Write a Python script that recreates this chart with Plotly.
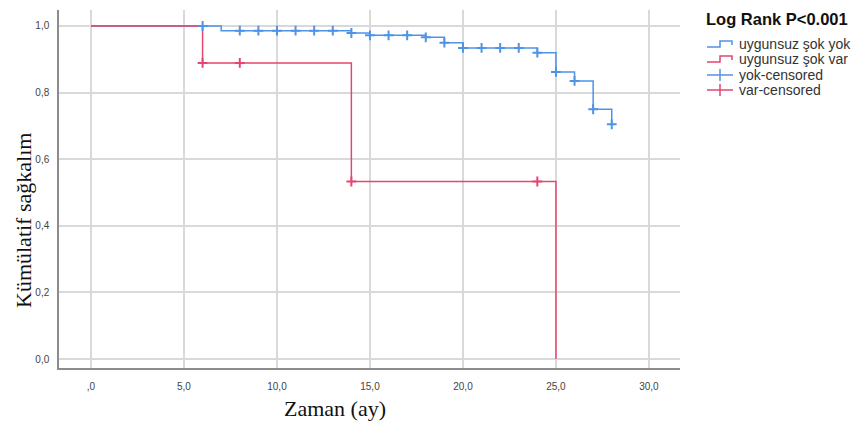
import plotly.graph_objects as go

# Kaplan-Meier step data
blue_t = [0, 7, 14, 15, 18, 19, 20, 24, 25, 26, 27, 28]
blue_s = [1.0, 0.986, 0.979, 0.972, 0.966, 0.950, 0.934, 0.920, 0.862, 0.835, 0.750, 0.705]
red_t = [0, 6, 14, 25]
red_s = [1.0, 0.889, 0.533, 0.0]

# censored observations
blue_cens_t = [6, 8, 9, 10, 11, 12, 13, 14, 15, 16, 17, 18, 19, 20, 21, 22, 23, 24, 25, 26, 27, 28]
blue_cens_s = [1.0, 0.986, 0.986, 0.986, 0.986, 0.986, 0.986, 0.979, 0.972, 0.972, 0.972, 0.966,
               0.950, 0.934, 0.934, 0.934, 0.934, 0.920, 0.862, 0.835, 0.750, 0.705]
red_cens_t = [6, 8, 14, 24]
red_cens_s = [0.889, 0.889, 0.533, 0.533]

x_ticks = [0, 5, 10, 15, 20, 25, 30]
x_ticktext = [",0", "5,0", "10,0", "15,0", "20,0", "25,0", "30,0"]
y_ticks = [0, 0.2, 0.4, 0.6, 0.8, 1.0]
y_ticktext = ["0,0", "0,2", "0,4", "0,6", "0,8", "1,0"]

legend_title = "Log Rank P<0.001"
legend_names = ["uygunsuz şok yok", "uygunsuz şok var", "yok-censored", "var-censored"]

BLUE = "#4f93e4"
RED = "#e5466f"

fig = go.Figure()
fig.add_trace(go.Scatter(x=blue_t, y=blue_s, mode="lines", line=dict(color=BLUE, width=1.5, shape="hv"),
                         name=legend_names[0]))
fig.add_trace(go.Scatter(x=red_t, y=red_s, mode="lines", line=dict(color=RED, width=1.5, shape="hv"),
                         name=legend_names[1]))
fig.add_trace(go.Scatter(x=blue_cens_t, y=blue_cens_s, mode="markers",
                         marker=dict(symbol="cross-thin", size=7, line=dict(color=BLUE, width=2)),
                         name=legend_names[2]))
fig.add_trace(go.Scatter(x=red_cens_t, y=red_cens_s, mode="markers",
                         marker=dict(symbol="cross-thin", size=7, line=dict(color=RED, width=2)),
                         name=legend_names[3]))

# ---- custom legend (pixel layout converted to paper coords) ----
L, R, T, B = 59, 680, 10, 368
def px(x):
    return (x - L) / (R - L)
def py(y):
    return (B - y) / (B - T)

shapes = []
annotations = []
annotations.append(dict(text="<b>" + legend_title + "</b>", xref="paper", yref="paper",
                        x=px(704), y=py(19), xanchor="left", yanchor="middle", showarrow=False,
                        font=dict(family="Liberation Sans, Arial", size=16.5, color="#111")))
rows = [44, 59, 75, 90]
colors = [BLUE, RED, BLUE, RED]
for i, (ry, name, c) in enumerate(zip(rows, legend_names, colors)):
    if i < 2:
        path = (f"M {px(707)} {py(ry + 3)} L {px(720)} {py(ry + 3)} L {px(720)} {py(ry - 3)} "
                f"L {px(732)} {py(ry - 3)} L {px(732)} {py(ry + 1)}")
        shapes.append(dict(type="path", xref="paper", yref="paper", path=path,
                           line=dict(color=c, width=1.5)))
    else:
        shapes.append(dict(type="line", xref="paper", yref="paper", x0=px(707), x1=px(733),
                           y0=py(ry), y1=py(ry), line=dict(color=c, width=1.5)))
        shapes.append(dict(type="line", xref="paper", yref="paper", x0=px(720), x1=px(720),
                           y0=py(ry - 6), y1=py(ry + 6), line=dict(color=c, width=1.5)))
    annotations.append(dict(text=name, xref="paper", yref="paper", x=px(737), y=py(ry),
                            xanchor="left", yanchor="middle", showarrow=False,
                            font=dict(family="Liberation Sans, Arial", size=14, color="#333")))

annotations.append(dict(text="Zaman (ay)", xref="paper", yref="paper", x=px(335), y=py(409),
                        xanchor="center", yanchor="middle", showarrow=False,
                        font=dict(family="Liberation Serif, Times New Roman", size=22, color="#111")))
annotations.append(dict(text="Kümülatif sağkalım", xref="paper", yref="paper", x=px(23), xanchor="center",
                        y=py(221), yanchor="middle", textangle=-90, showarrow=False,
                        font=dict(family="Liberation Serif, Times New Roman", size=22, color="#111")))

fig.update_layout(
    width=854, height=426,
    margin=dict(l=L, r=854 - R, t=T, b=426 - B),
    paper_bgcolor="white", plot_bgcolor="white",
    font=dict(family="Liberation Sans, Arial", size=10, color="#444"),
    showlegend=False,
    xaxis=dict(range=[-1.72, 31.67], tickvals=x_ticks, ticktext=x_ticktext,
               showgrid=True, gridcolor="#d9d9d9", gridwidth=1.5,
               showline=True, linecolor="#8c8c8c", linewidth=1.5, zeroline=False,
               ticks="", ticklabelstandoff=8),
    yaxis=dict(range=[-0.027, 1.048], tickvals=y_ticks, ticktext=y_ticktext,
               showgrid=True, gridcolor="#d9d9d9", gridwidth=1.5,
               showline=True, linecolor="#8c8c8c", linewidth=1.5, zeroline=False,
               ticks="", ticklabelstandoff=6),
    shapes=shapes,
    annotations=annotations,
)

fig.write_html("out.html")
